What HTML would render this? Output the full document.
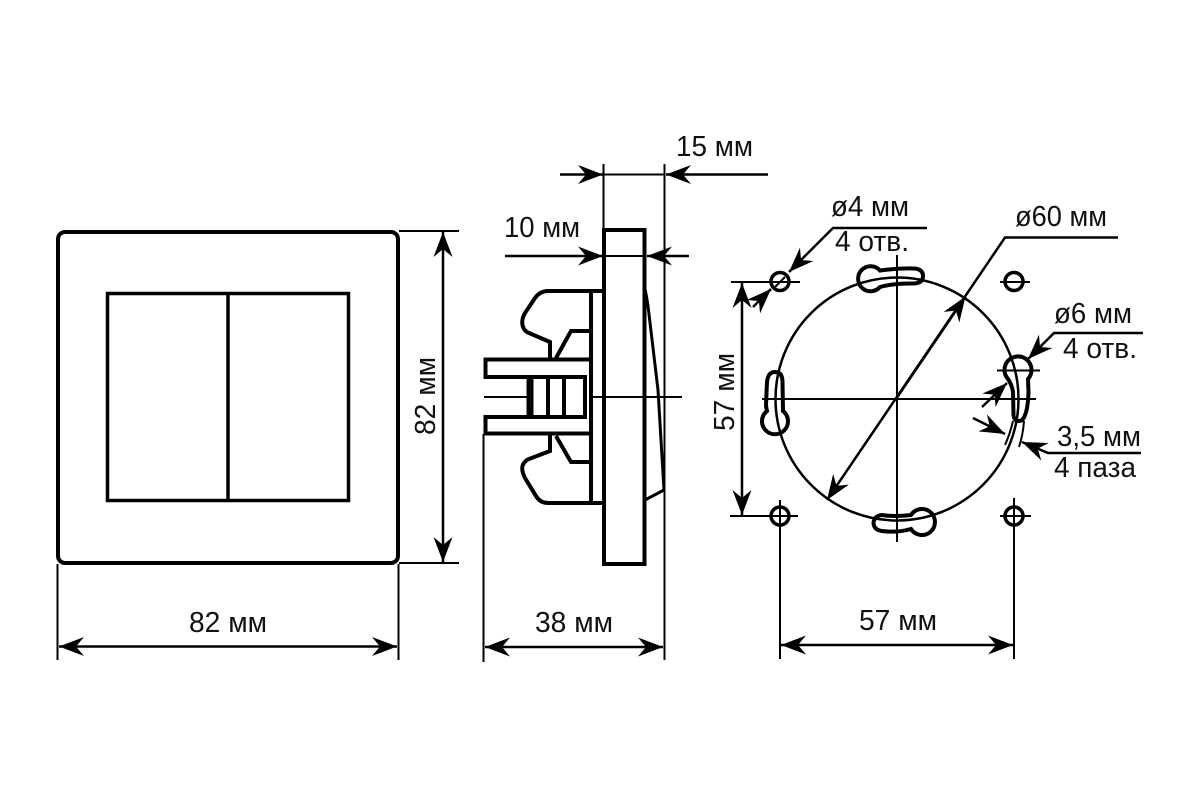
<!DOCTYPE html>
<html><head><meta charset="utf-8"><style>
html,body{margin:0;padding:0;background:#fff}
svg{display:block}
text{font-family:"Liberation Sans",sans-serif;font-size:28.5px;fill:#111}
</style></head><body>
<svg width="1200" height="800" viewBox="0 0 1200 800" xmlns="http://www.w3.org/2000/svg">
<defs>
<marker id="a" markerUnits="userSpaceOnUse" viewBox="-28 -11 30 22" refX="0" refY="0" markerWidth="30" markerHeight="22" orient="auto-start-reverse"><path d="M0,0 L-25,-9.500 L-17,0 L-25,9.500Z" fill="#000"/></marker>
</defs>
<rect width="1200" height="800" fill="#fff"/>
<g fill="none" stroke="#000" stroke-linejoin="miter">
<!-- front view -->
<rect x="58" y="232" width="340" height="331" rx="7" stroke-width="4"/>
<rect x="107.500" y="293.500" width="241" height="207" stroke-width="3.500"/>
<path d="M228 293V501" stroke-width="3.500"/>
<g stroke-width="2">
<path d="M399 231H459M399 563H459M57.500 564V660M398.500 564V660"/>
</g>
<path d="M443 232V562" stroke-width="2.500" marker-start="url(#a)" marker-end="url(#a)"/>
<path d="M59 646.500H397" stroke-width="2.500" marker-start="url(#a)" marker-end="url(#a)"/>

<!-- side view -->
<rect x="604" y="230" width="40.500" height="334" stroke-width="4"/>
<path d="M644 285 Q647 297 648.500 310 L658 390 L664 490 L645 500" stroke-width="3"/>
<path d="M603 291H548Q540 291 535 298L525 313Q520 322 524 329Q526 332 529 333L550 342V358M556 358L571 331H590" stroke-width="4"/>
<path d="M603 503H548Q540 503 536 496L525 478Q520 468 524 463Q526 460 529 459L550 451V435M556 436L571 462H590" stroke-width="4"/>
<path d="M591 291V503" stroke-width="4"/>
<path d="M590 359.500H485.500V377H585V417H485.500V433.500H590" stroke-width="4"/>
<path d="M530 377V417" stroke-width="7"/>
<path d="M548 377V417M564 377V417" stroke-width="4"/>
<path d="M484 397H527M592 397H682" stroke-width="2"/>
<path d="M603.500 164V230M664.500 164V660M483.500 434V662" stroke-width="2"/>
<path d="M604 174.500H664" stroke-width="2"/>
<path d="M560 174.500H603" stroke-width="2.500" marker-end="url(#a)"/>
<path d="M768 174.500H666" stroke-width="2.500" marker-end="url(#a)"/>
<path d="M505 256H603" stroke-width="2.500" marker-end="url(#a)"/>
<path d="M689 256H647" stroke-width="2.500" marker-end="url(#a)"/>
<path d="M604 256H645" stroke-width="2"/>
<path d="M485 647H663" stroke-width="2.500" marker-start="url(#a)" marker-end="url(#a)"/>

<!-- mounting plate -->
<circle cx="897" cy="399" r="121.500" stroke-width="2.500"/>
<path d="M897 255V542M762 399H1036" stroke-width="2"/>
<path d="M1118 237.500H1005L827 500" stroke-width="2.500" marker-end="url(#a)"/>
<path d="M897 397.500L965.500 296.500" stroke-width="2.500" marker-end="url(#a)"/>

<!-- slots -->
<path d="M880 270.500Q900 268 914 268.500Q923 269 923 276Q923 283 914 283.500Q895 283 880 287A12.500 12.500 0 1 1 880 270.500Z" stroke-width="4"/>
<path d="M766 406Q766.500 392 767 382Q768 372 775 372Q782.500 372 782.500 382L783 411A13 13 0 1 1 767 411Z" stroke-width="4"/>
<path d="M911 515Q895 517 882 515Q874 516 873.500 523Q874 530 882 531Q897 533 911 529A13 13 0 1 0 911 515Z" stroke-width="4"/>
<path d="M1008 379A13.500 13.500 0 1 1 1028 379L1028.500 392Q1028 408 1025 415Q1023 421 1019 421Q1014 421 1013.500 415L1013 392Q1012 385 1008 379Z" stroke-width="4"/>
<path d="M1013 421Q1010 434 1005 445M1024 421Q1023 435 1019 447" stroke-width="2"/>

<!-- holes -->
<g stroke-width="3.500"><circle cx="780" cy="281.500" r="9"/><circle cx="1014" cy="281.500" r="9"/><circle cx="780" cy="516" r="9"/><circle cx="1014" cy="516" r="9"/></g>
<path d="M731 282H800M1000 282H1030M730 516H798M1000 516H1031M780 500V659M1014 498V659M775 287L785 277" stroke-width="2"/>
<path d="M742 283V515" stroke-width="2.500" marker-start="url(#a)" marker-end="url(#a)"/>
<path d="M781 645H1013" stroke-width="2.500" marker-start="url(#a)" marker-end="url(#a)"/>
<path d="M927 228H833L789 272" stroke-width="2.500" marker-end="url(#a)"/>
<path d="M753 307L771 289" stroke-width="2.500" marker-end="url(#a)"/>
<path d="M1143 333H1054L1028 359" stroke-width="2.500" marker-end="url(#a)"/>
<path d="M997 370.500H1040" stroke-width="2"/>
<path d="M982 407L1007 383" stroke-width="2.500" marker-end="url(#a)"/>
<path d="M1141 453H1048L1022 442" stroke-width="2.500" marker-end="url(#a)"/>
<path d="M973 418L1005 434" stroke-width="2.500" marker-end="url(#a)"/>
</g>
<g>
<text x="189" y="632" textLength="78" lengthAdjust="spacingAndGlyphs">82 мм</text>
<text x="535" y="632" textLength="78" lengthAdjust="spacingAndGlyphs">38 мм</text>
<text x="859" y="630" textLength="78" lengthAdjust="spacingAndGlyphs">57 мм</text>
<text x="676" y="156" textLength="77" lengthAdjust="spacingAndGlyphs">15 мм</text>
<text x="504" y="237" textLength="76" lengthAdjust="spacingAndGlyphs">10 мм</text>
<text transform="translate(435,435) rotate(-90)" textLength="78" lengthAdjust="spacingAndGlyphs">82 мм</text>
<text transform="translate(734,431) rotate(-90)" textLength="78" lengthAdjust="spacingAndGlyphs">57 мм</text>
<text x="831" y="216" textLength="78" lengthAdjust="spacingAndGlyphs">ø4 мм</text>
<text x="835" y="251" textLength="74" lengthAdjust="spacingAndGlyphs">4 отв.</text>
<text x="1015" y="226" textLength="92" lengthAdjust="spacingAndGlyphs">ø60 мм</text>
<text x="1054" y="323" textLength="78" lengthAdjust="spacingAndGlyphs">ø6 мм</text>
<text x="1063" y="358" textLength="74" lengthAdjust="spacingAndGlyphs">4 отв.</text>
<text x="1057" y="446" textLength="84" lengthAdjust="spacingAndGlyphs">3,5 мм</text>
<text x="1054" y="477" textLength="82" lengthAdjust="spacingAndGlyphs">4 паза</text>
</g>
</svg>
</body></html>
